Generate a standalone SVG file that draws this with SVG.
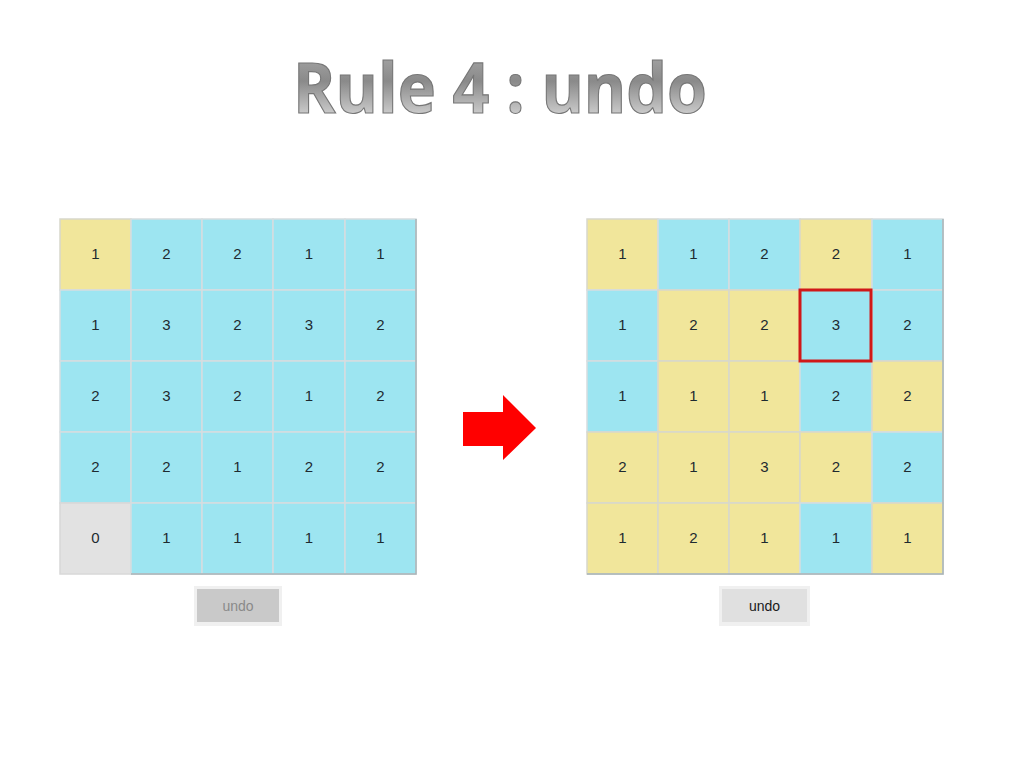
<svg xmlns="http://www.w3.org/2000/svg" width="1024" height="764" viewBox="0 0 1024 764">
<defs>
<linearGradient id="tg" x1="0" y1="0" x2="0" y2="1">
<stop offset="0" stop-color="#b4b4b4"/>
<stop offset="0.45" stop-color="#8a8a8a"/>
<stop offset="1" stop-color="#f2f2f2"/>
</linearGradient>
<style>
.c{fill:#9de5f1;stroke:#d6dde0;stroke-width:1.5}
.y{fill:#f1e69b;stroke:#d8d8cc;stroke-width:1.5}
.g{fill:#e2e2e2;stroke:#d8d8d8;stroke-width:1.5}
.n{font-family:"Liberation Sans",Arial,sans-serif;font-size:15px;fill:#1e2a30;text-anchor:middle}
.btnt{font-family:"Liberation Sans",Arial,sans-serif;font-size:14px;text-anchor:middle}
</style>
</defs>
<rect width="1024" height="764" fill="#ffffff"/>
<text x="500" y="113" font-family="'Open Sans',Lato,sans-serif" font-weight="bold" font-size="70" text-anchor="middle" fill="url(#tg)" stroke="#777" stroke-width="1.2" textLength="414" lengthAdjust="spacingAndGlyphs">Rule 4 : undo</text>

<g id="left-grid">
<rect x="60" y="219" width="71" height="71" class="y"/><text x="95.5" y="259" class="n">1</text>
<rect x="131" y="219" width="71" height="71" class="c"/><text x="166.5" y="259" class="n">2</text>
<rect x="202" y="219" width="71" height="71" class="c"/><text x="237.5" y="259" class="n">2</text>
<rect x="273" y="219" width="72" height="71" class="c"/><text x="309" y="259" class="n">1</text>
<rect x="345" y="219" width="71" height="71" class="c"/><text x="380.5" y="259" class="n">1</text>

<rect x="60" y="290" width="71" height="71" class="c"/><text x="95.5" y="330" class="n">1</text>
<rect x="131" y="290" width="71" height="71" class="c"/><text x="166.5" y="330" class="n">3</text>
<rect x="202" y="290" width="71" height="71" class="c"/><text x="237.5" y="330" class="n">2</text>
<rect x="273" y="290" width="72" height="71" class="c"/><text x="309" y="330" class="n">3</text>
<rect x="345" y="290" width="71" height="71" class="c"/><text x="380.5" y="330" class="n">2</text>

<rect x="60" y="361" width="71" height="71" class="c"/><text x="95.5" y="401" class="n">2</text>
<rect x="131" y="361" width="71" height="71" class="c"/><text x="166.5" y="401" class="n">3</text>
<rect x="202" y="361" width="71" height="71" class="c"/><text x="237.5" y="401" class="n">2</text>
<rect x="273" y="361" width="72" height="71" class="c"/><text x="309" y="401" class="n">1</text>
<rect x="345" y="361" width="71" height="71" class="c"/><text x="380.5" y="401" class="n">2</text>

<rect x="60" y="432" width="71" height="71" class="c"/><text x="95.5" y="472" class="n">2</text>
<rect x="131" y="432" width="71" height="71" class="c"/><text x="166.5" y="472" class="n">2</text>
<rect x="202" y="432" width="71" height="71" class="c"/><text x="237.5" y="472" class="n">1</text>
<rect x="273" y="432" width="72" height="71" class="c"/><text x="309" y="472" class="n">2</text>
<rect x="345" y="432" width="71" height="71" class="c"/><text x="380.5" y="472" class="n">2</text>

<rect x="60" y="503" width="71" height="71" class="g"/><text x="95.5" y="543" class="n">0</text>
<rect x="131" y="503" width="71" height="71" class="c"/><text x="166.5" y="543" class="n">1</text>
<rect x="202" y="503" width="71" height="71" class="c"/><text x="237.5" y="543" class="n">1</text>
<rect x="273" y="503" width="72" height="71" class="c"/><text x="309" y="543" class="n">1</text>
<rect x="345" y="503" width="71" height="71" class="c"/><text x="380.5" y="543" class="n">1</text>
<path d="M131 574H416V219" fill="none" stroke="#a8b4b8" stroke-width="1.5"/>
</g>

<g id="left-undo">
<rect x="194" y="586" width="88" height="40" fill="#f0f0f0"/>
<rect x="197" y="589" width="82" height="33" fill="#c9c9c9"/>
<text x="238" y="611" class="btnt" fill="#8a8a8a">undo</text>
</g>

<g id="arrow">
<polygon points="463,412 503,412 503,395 536,428 503,460 503,446 463,446" fill="#ff0000"/>
</g>

<g id="right-grid">
<rect x="587" y="219" width="71" height="71" class="y"/><text x="622.5" y="259" class="n">1</text>
<rect x="658" y="219" width="71" height="71" class="c"/><text x="693.5" y="259" class="n">1</text>
<rect x="729" y="219" width="71" height="71" class="c"/><text x="764.5" y="259" class="n">2</text>
<rect x="800" y="219" width="72" height="71" class="y"/><text x="836" y="259" class="n">2</text>
<rect x="872" y="219" width="71" height="71" class="c"/><text x="907.5" y="259" class="n">1</text>

<rect x="587" y="290" width="71" height="71" class="c"/><text x="622.5" y="330" class="n">1</text>
<rect x="658" y="290" width="71" height="71" class="y"/><text x="693.5" y="330" class="n">2</text>
<rect x="729" y="290" width="71" height="71" class="y"/><text x="764.5" y="330" class="n">2</text>
<rect x="800" y="290" width="72" height="71" class="c"/><text x="836" y="330" class="n">3</text>
<rect x="872" y="290" width="71" height="71" class="c"/><text x="907.5" y="330" class="n">2</text>

<rect x="587" y="361" width="71" height="71" class="c"/><text x="622.5" y="401" class="n">1</text>
<rect x="658" y="361" width="71" height="71" class="y"/><text x="693.5" y="401" class="n">1</text>
<rect x="729" y="361" width="71" height="71" class="y"/><text x="764.5" y="401" class="n">1</text>
<rect x="800" y="361" width="72" height="71" class="c"/><text x="836" y="401" class="n">2</text>
<rect x="872" y="361" width="71" height="71" class="y"/><text x="907.5" y="401" class="n">2</text>

<rect x="587" y="432" width="71" height="71" class="y"/><text x="622.5" y="472" class="n">2</text>
<rect x="658" y="432" width="71" height="71" class="y"/><text x="693.5" y="472" class="n">1</text>
<rect x="729" y="432" width="71" height="71" class="y"/><text x="764.5" y="472" class="n">3</text>
<rect x="800" y="432" width="72" height="71" class="y"/><text x="836" y="472" class="n">2</text>
<rect x="872" y="432" width="71" height="71" class="c"/><text x="907.5" y="472" class="n">2</text>

<rect x="587" y="503" width="71" height="71" class="y"/><text x="622.5" y="543" class="n">1</text>
<rect x="658" y="503" width="71" height="71" class="y"/><text x="693.5" y="543" class="n">2</text>
<rect x="729" y="503" width="71" height="71" class="y"/><text x="764.5" y="543" class="n">1</text>
<rect x="800" y="503" width="72" height="71" class="c"/><text x="836" y="543" class="n">1</text>
<rect x="872" y="503" width="71" height="71" class="y"/><text x="907.5" y="543" class="n">1</text>
<path d="M587 574H943V219" fill="none" stroke="#a8b4b8" stroke-width="1.5"/>
<rect x="800" y="290" width="71" height="71" fill="none" stroke="#d01818" stroke-width="3"/>
</g>

<g id="right-undo">
<rect x="719" y="586" width="91" height="40" fill="#f0f0f0"/>
<rect x="722" y="589" width="85" height="33" fill="#e0e0e0"/>
<text x="764.5" y="611" class="btnt" fill="#1a1a1a">undo</text>
</g>
</svg>
